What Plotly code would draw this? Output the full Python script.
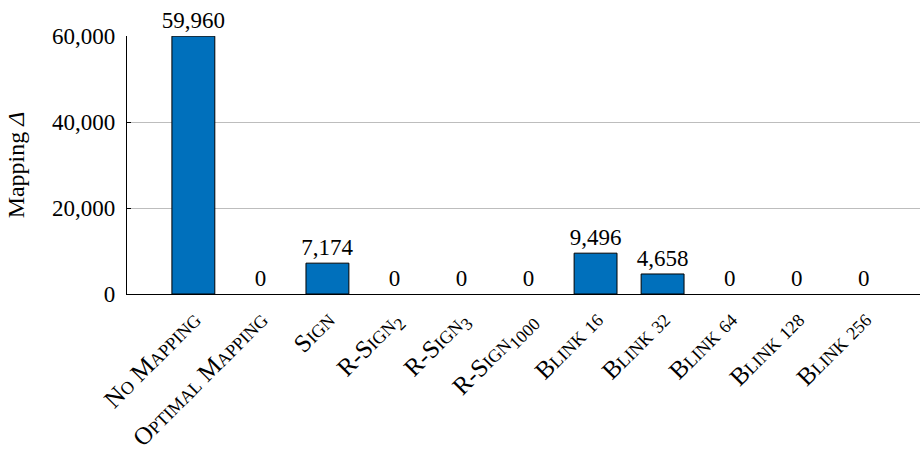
import plotly.graph_objects as go

categories = ["No Mapping", "Optimal Mapping", "Sign", "R-Sign<sub>2</sub>",
              "R-Sign<sub>3</sub>", "R-Sign<sub>1000</sub>",
              "Blink <span style='font-size:18px'>16</span>",
              "Blink <span style='font-size:18px'>32</span>",
              "Blink <span style='font-size:18px'>64</span>",
              "Blink <span style='font-size:18px'>128</span>",
              "Blink <span style='font-size:18px'>256</span>"]
values = [59960, 0, 7174, 0, 0, 0, 9496, 4658, 0, 0, 0]
ytick_vals = [0, 20000, 40000, 60000]

FONT = "Liberation Serif"
fig = go.Figure(go.Bar(
    x=list(range(len(categories))), y=values,
    marker=dict(color="#0070BC",
                line=dict(color="black", width=[1 if v > 0 else 0 for v in values])),
    width=0.64,
    text=[f"{v:,}" for v in values], textposition="outside",
    textfont=dict(family=FONT, size=23, color="black"),
    constraintext="none",
    cliponaxis=False,
))
fig.update_layout(
    width=920, height=454,
    margin=dict(l=127, r=0, t=36, b=160),
    plot_bgcolor="white", paper_bgcolor="white",
    showlegend=False,
    font=dict(family=FONT, size=22, color="black"),
)
fig.update_xaxes(
    range=[-0.99, 10.84], automargin=False,
    tickmode="array", tickvals=list(range(len(categories))), ticktext=categories,
    tickangle=-45,
    tickfont=dict(family=FONT, size=25, color="black", variant="small-caps"),
    showline=True, linecolor="black", linewidth=1.2,
    showgrid=False, ticks="", zeroline=False,
)
fig.update_yaxes(
    range=[0, 60000], automargin=False,
    tickmode="array", tickvals=ytick_vals, tickformat=",",
    tickfont=dict(family=FONT, size=23, color="black"),
    ticks="inside", ticklen=4, tickcolor="black",
    showline=True, linecolor="black", linewidth=1.2,
    showgrid=True, gridcolor="#bdbdbd", gridwidth=1,
    zeroline=False, ticklabelstandoff=6,
    title=dict(text="Mapping <i>Δ</i>", font=dict(family=FONT, size=24), standoff=20),
)
fig.write_html("out.html")
